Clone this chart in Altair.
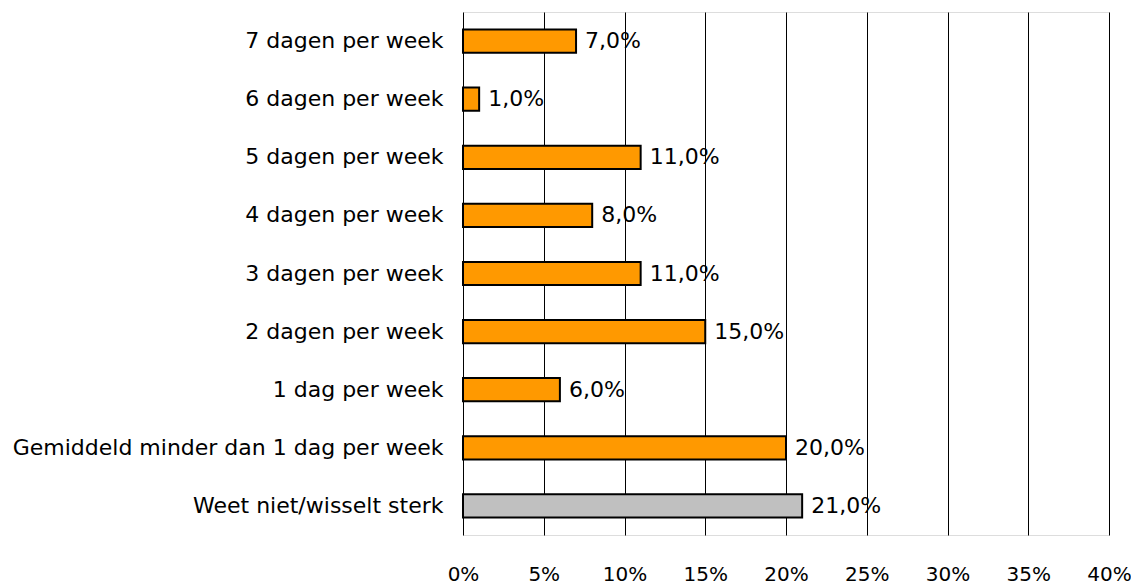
import altair as alt
import pandas as pd

categories = [
    "7 dagen per week",
    "6 dagen per week",
    "5 dagen per week",
    "4 dagen per week",
    "3 dagen per week",
    "2 dagen per week",
    "1 dag per week",
    "Gemiddeld minder dan 1 dag per week",
    "Weet niet/wisselt sterk",
]
values = [7.0, 1.0, 11.0, 8.0, 11.0, 15.0, 6.0, 20.0, 21.0]
x_ticks = [0, 5, 10, 15, 20, 25, 30, 35, 40]

df = pd.DataFrame({"categorie": categories, "waarde": values})

FONT = "DejaVu Sans"
FS = 22

y_enc = alt.Y(
    "categorie:N",
    sort=categories,
    title=None,
    scale=alt.Scale(paddingInner=0.6, paddingOuter=0.3),
    axis=alt.Axis(domain=False, ticks=False, labelPadding=20, labelFontSize=FS,
                  labelFont=FONT, labelColor="black", labelLimit=600),
)
x_enc = alt.X(
    "waarde:Q",
    title=None,
    scale=alt.Scale(domain=[0, 40], nice=False),
    axis=alt.Axis(values=x_ticks, grid=True, gridColor="black", gridOpacity=1,
                  gridWidth=1, domain=False, ticks=False, labelPadding=29,
                  labelFontSize=20, labelFont=FONT, labelColor="black",
                  labelExpr="datum.value + '%'", labelFlush=False),
)

bars = alt.Chart(df).mark_bar(stroke="black", strokeWidth=2).encode(
    x=x_enc,
    y=y_enc,
    color=alt.condition(
        alt.datum.categorie == "Weet niet/wisselt sterk",
        alt.value("#C0C0C0"),
        alt.value("#FF9900"),
    ),
)

labels = alt.Chart(df).mark_text(
    align="left", baseline="middle", dx=9, fontSize=FS, font=FONT, color="black"
).encode(
    x="waarde:Q",
    y=alt.Y("categorie:N", sort=categories),
    text=alt.Text("lbl:N"),
).transform_calculate(
    lbl="replace(format(datum.waarde, '.1f'), '.', ',') + '%'"
)

chart = (
    alt.layer(bars, labels)
    .properties(
        width=646,
        height=523,
        autosize=alt.AutoSizeParams(type="none"),
        padding={"left": 455, "top": 4, "right": 22, "bottom": 50},
    )
    .configure_view(stroke="black", strokeWidth=1)
    .configure(background="white")
)

chart.save("out.html", embed_options={"renderer": "svg", "actions": False})
